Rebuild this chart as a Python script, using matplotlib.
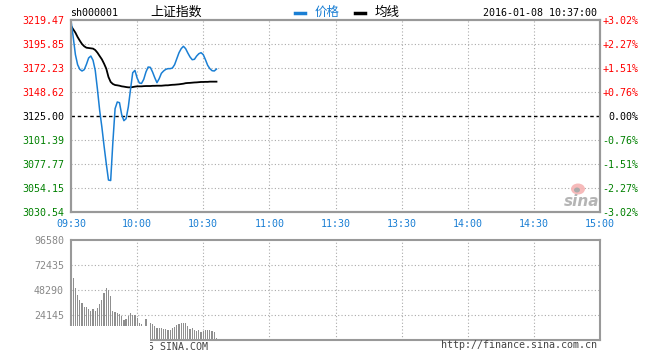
import matplotlib
matplotlib.use('Agg')
import matplotlib.pyplot as plt
from matplotlib.patches import Rectangle, Ellipse
from matplotlib.lines import Line2D

W, H = 660, 360

# ---------------- data ----------------
prices = [3219.1, 3202.7, 3185.4, 3175.5, 3170.9, 3169.3, 3170.6, 3175.8, 3182.1, 3184.0,
          3179.8, 3169.9, 3151.2, 3130.6, 3114.2, 3095.5, 3078.1, 3062.0, 3061.5, 3099.4,
          3132.2, 3138.8, 3138.1, 3126.3, 3120.4, 3122.4, 3133.9, 3151.2, 3167.6, 3169.9,
          3162.4, 3157.5, 3157.1, 3161.1, 3168.3, 3173.2, 3172.9, 3168.3, 3162.7, 3157.8,
          3161.7, 3167.0, 3169.3, 3170.9, 3171.6, 3171.6, 3172.2, 3175.5, 3181.4, 3187.3,
          3191.3, 3193.6, 3191.3, 3187.0, 3183.1, 3180.4, 3180.8, 3184.0, 3186.3, 3187.3,
          3185.4, 3180.4, 3174.9, 3171.6, 3169.6, 3169.3, 3171.2]

avg_prices = [3213.6, 3210.3, 3207.0, 3202.7, 3199.1, 3195.8, 3193.6, 3192.2, 3191.9, 3191.6,
              3191.3, 3189.9, 3187.3, 3184.0, 3180.8, 3176.5, 3171.6, 3163.4, 3158.5, 3156.5,
              3155.5, 3155.2, 3154.8, 3154.2, 3153.9, 3153.5, 3153.2, 3153.2, 3153.5, 3153.9,
              3154.2, 3154.2, 3154.2, 3154.4, 3154.5, 3154.5, 3154.5, 3154.7, 3154.7, 3154.8,
              3154.8, 3154.8, 3155.0, 3155.2, 3155.2, 3155.5, 3155.7, 3155.8, 3156.0, 3156.2,
              3156.5, 3156.8, 3157.3, 3157.5, 3157.6, 3157.8, 3158.0, 3158.1, 3158.3, 3158.5,
              3158.5, 3158.6, 3158.6, 3158.8, 3158.8, 3158.8, 3158.8]

volumes = [96580, 59590, 49930, 43460, 38630, 36020, 32160, 31580, 29940, 28010,
           29940, 28010, 30620, 34770, 38630, 45100, 49930, 48290, 42500, 28010,
           27330, 25790, 25110, 23180, 19320, 19990, 23180, 25790, 24150, 24150,
           20960, 16710, 15450, 13520, 19990, 13520, 15940, 14970, 13040, 12070,
           11590, 11110, 10620, 10620, 10140, 10140, 11110, 12560, 14490, 15450,
           16130, 16710, 15940, 13040, 10620, 11110, 10140, 8690, 9660, 7730,
           8980, 9660, 9660, 10140, 8690, 7730, 2220]

pre_close = 3125.00
price_ticks = [3030.54, 3054.15, 3077.77, 3101.39, 3125.00, 3148.62, 3172.23, 3195.85, 3219.47]
price_labels = ['3030.54', '3054.15', '3077.77', '3101.39', '3125.00', '3148.62', '3172.23', '3195.85', '3219.47']
pct_labels = ['-3.02%', '-2.27%', '-1.51%', '-0.76%', '0.00%', '+0.76%', '+1.51%', '+2.27%', '+3.02%']
time_pos = [0, 30, 60, 90, 120, 150, 180, 210, 240]
time_labels = ['09:30', '10:00', '10:30', '11:00', '11:30', '13:30', '14:00', '14:30', '15:00']
vol_ticks = [24145, 48290, 72435, 96580]
vol_labels = ['24145', '48290', '72435', '96580']

# ---------------- style ----------------
MONO = 'DejaVu Sans Mono'
CJK = ['Noto Sans CJK SC', 'DejaVu Sans']
BLUE = '#1a7fd4'
RED = '#ff0000'
GREEN = '#008000'
GRID = '#aaaaaa'
SPINE = '#999999'
FS = 7.2


def color_for(v):
    if abs(v - pre_close) < 1e-6:
        return 'black'
    return RED if v > pre_close else GREEN


def fx(x):
    return x / W


def fy(y):
    return 1 - y / H


fig = plt.figure(figsize=(W / 100, H / 100), dpi=100)
fig.patch.set_facecolor('white')

L, R = 71, 600
ax = fig.add_axes([fx(L), fy(212), (R - L) / W, (212 - 20) / H])
axv = fig.add_axes([fx(L), fy(340), (R - L) / W, (340 - 240) / H])

# ---------------- price panel ----------------
ax.set_xlim(0, 240)
ax.set_ylim(price_ticks[0], price_ticks[-1])
for v in price_ticks[1:-1]:
    if abs(v - pre_close) < 1e-6:
        ax.axhline(v, color='black', lw=1.0, ls=(0, (2.5, 2)), zorder=1)
    else:
        ax.axhline(v, color=GRID, lw=0.8, ls=(0, (1, 2)), zorder=1)
for t in time_pos[1:-1]:
    ax.axvline(t, color=GRID, lw=0.8, ls=(0, (1, 2)), zorder=1)

xs = list(range(len(prices)))
ax.plot(xs, avg_prices, color='black', lw=1.3, zorder=3)
ax.plot(xs, prices, color=BLUE, lw=1.1, zorder=4)

ax.set_yticks(price_ticks)
ax.set_yticklabels(price_labels, fontfamily=MONO, fontsize=FS)
for lbl, v in zip(ax.get_yticklabels(), price_ticks):
    lbl.set_color(color_for(v))
ax.tick_params(axis='y', length=0, pad=5)

ax.set_xticks(time_pos)
ax.set_xticklabels(time_labels, fontfamily=MONO, fontsize=FS, color=BLUE)
ax.tick_params(axis='x', length=0, pad=5)

axr = ax.twinx()
axr.set_ylim(ax.get_ylim())
axr.set_yticks(price_ticks)
axr.set_yticklabels(pct_labels, fontfamily=MONO, fontsize=FS, ha='right')
for lbl, v in zip(axr.get_yticklabels(), price_ticks):
    lbl.set_color(color_for(v))
axr.tick_params(axis='y', length=0, pad=27.5)

for a in (ax, axr):
    for s in a.spines.values():
        s.set_color(SPINE)
        s.set_linewidth(1.5)

# ---------------- volume panel ----------------
axv.set_xlim(0, 240)
axv.set_ylim(0, vol_ticks[-1])
for v in vol_ticks[:-1]:
    axv.axhline(v, color=GRID, lw=0.8, ls=(0, (1, 2)), zorder=1)
for t in time_pos[1:-1]:
    axv.axvline(t, color=GRID, lw=0.8, ls=(0, (1, 2)), zorder=1)
axv.bar(list(range(len(volumes))), volumes, width=0.55, color='#8f8f8f',
        linewidth=0, zorder=2, antialiased=False)
axv.set_yticks(vol_ticks)
axv.set_yticklabels(vol_labels, fontfamily=MONO, fontsize=FS, color='#888888')
axv.tick_params(axis='y', length=0, pad=5)
axv.set_xticks([])
for s in axv.spines.values():
    s.set_color(SPINE)
    s.set_linewidth(1.5)

# ---------------- header texts ----------------
fig.text(fx(70), fy(13), 'sh000001', fontfamily=MONO, fontsize=FS, color='black',
         ha='left', va='center')
fig.text(fx(150), fy(12.5), '上证指数', family=CJK, fontsize=9.3, color='black',
         ha='left', va='center')
fig.add_artist(Line2D([fx(295), fx(305)], [fy(12.5), fy(12.5)], color=BLUE, lw=2.5))
fig.text(fx(315), fy(12.5), '价格', family=CJK, fontsize=9, color=BLUE,
         ha='left', va='center')
fig.add_artist(Line2D([fx(355), fx(365)], [fy(12.5), fy(12.5)], color='black', lw=2.5))
fig.text(fx(375), fy(12.5), '均线', family=CJK, fontsize=9, color='black',
         ha='left', va='center')
fig.text(fx(597), fy(13), '2016-01-08 10:37:00', fontfamily=MONO, fontsize=FS,
         color='black', ha='right', va='center')

# ---------------- watermark ----------------
fig.add_artist(Ellipse((fx(578), fy(189)), 14 / W, 11 / H, facecolor='#f6b3b3',
                       edgecolor='none', alpha=0.9))
fig.add_artist(Ellipse((fx(577), fy(190)), 6 / W, 5 / H, facecolor='#aaaaaa',
                       edgecolor='none'))
fig.text(fx(582), fy(202), 'sina', fontfamily='DejaVu Sans', fontsize=11,
         fontstyle='italic', fontweight='bold', color='#b5b5b5', ha='center', va='center')

# ---------------- footer texts ----------------
fig.text(fx(597), fy(345), 'http://finance.sina.com.cn', fontfamily=MONO, fontsize=FS,
         color='#444444', ha='right', va='center')
fig.text(fx(130), fy(347), '2015 SINA.COM', fontfamily=MONO, fontsize=FS,
         color='#444444', ha='left', va='center')

# blank (unloaded) tile at lower left, as in the reference
fig.add_artist(Rectangle((0, 0), 150 / W, 34.5 / H, transform=fig.transFigure,
                         facecolor='white', edgecolor='none', zorder=10))

fig.savefig('out.png', dpi=100, facecolor='white')
